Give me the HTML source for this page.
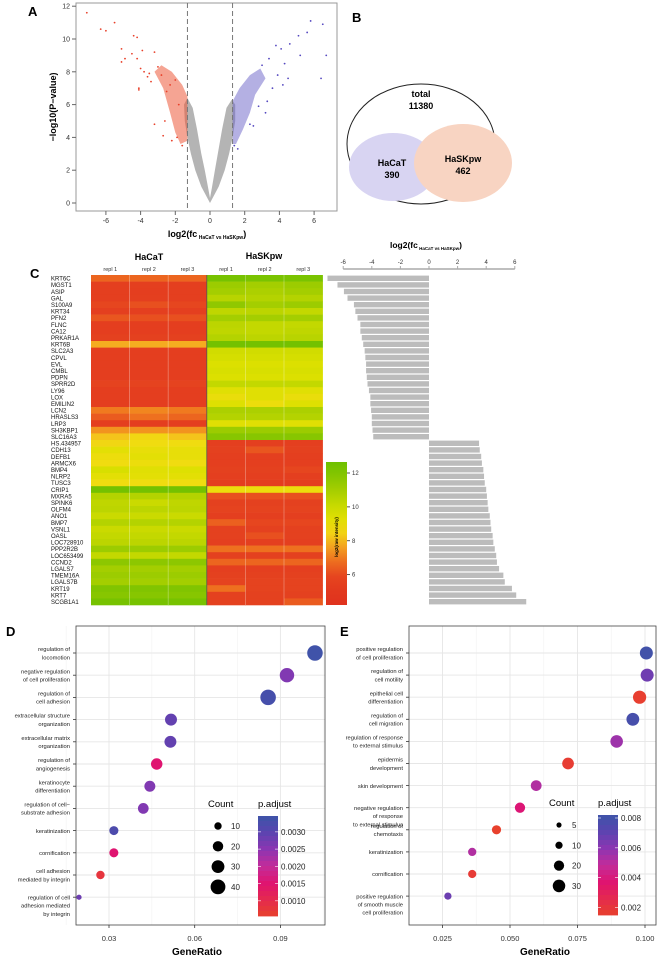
<!DOCTYPE html>
<html><head><meta charset="utf-8"><style>
html,body{margin:0;padding:0;background:#fff}
svg{display:block;font-family:"Liberation Sans",Arial,sans-serif}
</style></head><body>
<svg id="fig" width="660" height="960" viewBox="0 0 660 960" xmlns="http://www.w3.org/2000/svg">
<g id="gA"></g>
<g id="gB"></g>
<g id="gC"></g>
<g id="gD"></g>
<g id="gE"></g>
</svg>
<script>
// ---------- DATA ----------
const volX_ticks=[-6,-4,-2,0,2,4,6];
const volY_ticks=[0,2,4,6,8,10,12];
const grayLeftEnv=[[0,0],[-0.5,1],[-0.85,2],[-1.1,3],[-1.3,4],[-1.45,5],[-1.5,6],[-1.3,6.4],[-1.0,5.8],[-0.75,4.5],[-0.5,3],[-0.3,2],[-0.12,1],[0,0.3]];
const grayRightEnv=[[0,0],[0.5,1],[0.85,2],[1.1,3],[1.3,4],[1.45,5],[1.45,6],[1.25,6.3],[0.95,5.8],[0.7,4.5],[0.45,3],[0.28,2],[0.12,1],[0,0.3]];
const redCore=[[-1.3,3.8],[-1.3,6.5],[-1.6,7.2],[-2.2,8.0],[-2.8,8.4],[-3.2,8.0],[-2.7,7.0],[-2.3,5.5],[-2.0,4.3],[-1.7,3.6]];
const blueCore=[[1.3,3.6],[1.3,6.2],[1.7,7.0],[2.3,7.8],[2.9,8.2],[3.2,7.6],[2.6,6.6],[2.3,5.5],[1.9,4.5],[1.5,3.6]];
const redX=[-7.1,-6.3,-6.0,-5.5,-4.4,-4.2,-3.9,-5.1,-4.5,-4.2,-3.2,-5.1,-4.9,-4.0,-3.8,-3.5,-3.0,-2.8,-4.1,-4.1,-3.2,-2.7,-2.0,-2.3,-2.5,-1.8,-3.4,-3.6,-2.2,-1.6,-1.9,-2.6];
const redY=[11.6,10.6,10.5,11.0,10.2,10.1,9.3,9.4,9.1,8.8,9.2,8.6,8.8,8.2,8.0,7.9,8.3,7.8,7.0,6.9,4.8,4.1,7.5,7.2,6.8,6.0,7.4,7.7,3.8,3.5,4.0,5.0];
const blueX=[5.8,6.5,5.6,5.1,4.6,3.8,4.1,5.2,6.7,3.4,4.3,3.0,3.9,4.5,4.2,3.6,6.4,3.2,2.5,2.3,3.3,2.8,1.4,1.6];
const blueY=[11.1,10.9,10.4,10.2,9.7,9.6,9.4,9.0,9.0,8.8,8.5,8.4,7.8,7.6,7.2,7.0,7.6,5.5,4.7,4.8,6.2,5.9,3.5,3.3];
const vennTotal=11380, vennHaCaT=390, vennHaSKpw=462;
const genes=["KRT6C","MGST1","ASIP","GAL","S100A9","KRT34","PFN2","FLNC","CA12","PRKAR1A","KRT6B","SLC2A3","CPVL","EVL","CMBL","PDPN","SPRR2D","LY96","LOX","EMILIN2","LCN2","HRASLS3","LRP3","SH3KBP1","SLC16A3","HS.434957","CDH13","DEFB1","ARMCX6","BMP4","NLRP2","TUSC3","CRIP1","MXRA5","SPINK6","OLFM4","ANO1","BMP7","VSNL1","OASL","LOC728910","PPP2R2B","LOC653499","CCND2","LGALS7","TMEM16A","LGALS7B","KRT19","KRT7","SCGB1A1"];
const hacat=[[6.6,6.6,6.6],[5.5,5.5,5.5],[5.5,5.4,5.5],[5.5,5.5,5.5],[6,6.2,6],[5.5,5.5,5.5],[6.3,6.2,6.2],[5.4,5.4,5.4],[5.4,5.4,5.4],[5.6,5.6,5.6],[7.8,7.8,7.8],[5.4,5.4,5.4],[5.4,5.4,5.4],[5.4,5.4,5.4],[5.4,5.4,5.4],[5.4,5.4,5.4],[5.8,5.8,5.8],[5.4,5.4,5.4],[5.4,5.4,5.4],[5.4,5.4,5.4],[7.0,7.2,7.0],[6.4,6.8,6.6],[5.4,5.4,5.4],[7.4,7.4,7.4],[8.2,8.5,8.2],[8.5,8.6,8.6],[9.2,9,9],[8.8,9.2,9],[8.6,8.8,8.6],[9.6,9.3,9.4],[9.2,9.2,9.2],[8.6,8.6,8.6],[12.4,12.4,12.4],[10.6,10.6,10.6],[10.3,10,10.3],[10.4,10.4,10.4],[10,10,10],[10.6,10.6,10.6],[10,10,10],[10.2,10.2,10.2],[10.4,10.4,10.4],[11.2,11.2,11.2],[10.2,10.2,10.2],[11.6,11.6,11.6],[11,11,11],[11.2,11.2,11.2],[11,11,11],[12,12,12],[11.8,11.8,11.8],[12.3,12.3,12.3]];
const haskpw=[[12.3,12.2,12.2],[11.2,11,11.2],[11,10.8,11],[10.5,10.6,10.6],[11.5,11,11.2],[10.3,10.4,10.2],[11,11,11],[10.4,10.2,10.2],[10.3,10.2,10.3],[10.6,10.4,10.5],[12.4,12.4,12.4],[9.8,9.8,9.8],[9.7,9.7,9.7],[9.5,9.5,9.5],[9.6,9.6,9.6],[9.5,9.5,9.5],[10.2,10.2,10.2],[9.3,9.3,9.3],[8.9,9.3,8.9],[9.4,8.8,9.4],[10.8,10.8,10.8],[10.6,10.6,10.6],[9.3,9.3,9.3],[11.2,11.2,11.2],[11.8,11.8,11.8],[5.5,5.5,5.5],[5.6,6.3,5.6],[5.5,5.5,5.5],[5.5,5.5,5.5],[5.6,5.6,6],[5.5,5.5,5.5],[5.4,5.4,5.4],[8.8,8.8,8.8],[6.2,6.2,6.2],[5.6,5.6,5.6],[5.8,5.8,5.8],[5.5,5.5,5.5],[6.5,6,6],[5.6,5.6,5.6],[5.6,6.2,5.6],[5.5,5.5,5.5],[6.8,6.8,6.8],[5.6,5.6,5.6],[6.6,6.6,6.6],[5.5,5.5,5.5],[5.6,5.6,5.6],[5.8,5.8,5.8],[6.8,5.8,5.8],[5.6,5.6,5.6],[5.6,5.6,6.4]];
const foldChange=[-7.1,-6.4,-5.95,-5.7,-5.25,-5.15,-5.0,-4.8,-4.8,-4.7,-4.6,-4.5,-4.45,-4.4,-4.4,-4.35,-4.3,-4.2,-4.1,-4.1,-4.05,-4.0,-4.0,-3.95,-3.9,3.5,3.55,3.65,3.7,3.8,3.85,3.9,4.0,4.05,4.1,4.15,4.25,4.3,4.35,4.45,4.5,4.6,4.7,4.75,4.9,5.2,5.3,5.8,6.1,6.8];
const fcTicks=[-6,-4,-2,0,2,4,6];
const intensityTicks=[6,8,10,12];
const dTerms=[["regulation of","locomotion"],["negative regulation","of cell proliferation"],["regulation of","cell adhesion"],["extracellular structure","organization"],["extracellular matrix","organization"],["regulation of","angiogenesis"],["keratinocyte","differentiation"],["regulation of cell−","substrate adhesion"],["keratinization"],["cornification"],["cell adhesion","mediated by integrin"],["regulation of cell","adhesion mediated","by integrin"]];
const dRatio=[0.1021,0.0923,0.0857,0.0517,0.0515,0.0467,0.0443,0.042,0.0317,0.0317,0.027,0.0195];
const dCount=[44,38,44,26,26,24,22,21,15,15,13,5];
const dPadj=[0.0034,0.0026,0.0033,0.0029,0.0029,0.0015,0.0026,0.0026,0.0032,0.0015,0.0008,0.0028];
const dXTicks=[0.03,0.06,0.09];
const dCountLegend=[10,20,30,40];
const dPTicks=[0.0010,0.0015,0.0020,0.0025,0.0030];
const eTerms=[["positive regulation","of cell proliferation"],["regulation of","cell motility"],["epithelial cell","differentiation"],["regulation of","cell migration"],["regulation of response","to external stimulus"],["epidermis","development"],["skin development"],["negative regulation","of response","to external stimulus"],["regulation of","chemotaxis"],["keratinization"],["cornification"],["positive regulation","of smooth muscle","cell proliferation"]];
const eRatio=[0.1005,0.1008,0.098,0.0955,0.0895,0.0715,0.0597,0.0537,0.045,0.036,0.036,0.027];
const eCount=[32,32,33,31,30,26,22,20,16,13,13,10];
const ePadj=[0.0080,0.0066,0.0016,0.0078,0.0056,0.0017,0.0052,0.0038,0.0015,0.0052,0.0018,0.0067];
const eXTicks=[0.025,0.050,0.075,0.100];
const eCountLegend=[5,10,20,30];
const ePTicks=[0.002,0.004,0.006,0.008];

// ---------- HELPERS ----------
const NS="http://www.w3.org/2000/svg";
function mk(parent,tag,attrs,text){const e=document.createElementNS(NS,tag);for(const k in attrs)e.setAttribute(k,attrs[k]);if(text!==undefined)e.textContent=text;parent.appendChild(e);return e;}
function hex(c){return [parseInt(c.slice(1,3),16),parseInt(c.slice(3,5),16),parseInt(c.slice(5,7),16)];}
function interp(stops,v){if(v<=stops[0][0])return stops[0][1];for(let i=1;i<stops.length;i++){if(v<=stops[i][0]){const t=(v-stops[i-1][0])/(stops[i][0]-stops[i-1][0]);const a=hex(stops[i-1][1]),b=hex(stops[i][1]);return "rgb("+a.map((x,j)=>Math.round(x+(b[j]-x)*t)).join(",")+")";}}return stops[stops.length-1][1];}
const heatStops=[[4.5,"#e0321e"],[6,"#e6461f"],[7,"#f07a1f"],[8,"#f6b820"],[8.6,"#f0dc10"],[9.5,"#dce000"],[10.5,"#b8d400"],[11.5,"#90c800"],[12.6,"#6ec000"]];
const pStops=[[0,"#e8412d"],[0.32,"#e0136f"],[0.5,"#c22c9a"],[0.67,"#8a36b2"],[0.84,"#5a44b0"],[1,"#3c55a8"]];

// ---------- PANEL A ----------
(function(){
const g=document.getElementById('gA');
const xA=v=>210+v*17.35, yA=v=>203-v*16.4;
const lbl=mk(g,'text',{x:28,y:16,'font-size':13,'font-weight':'bold'},'A');


const box=mk(g,'rect',{x:76,y:3,width:261,height:208,fill:'none',stroke:'#999','stroke-width':1});


const pts=a=>a.map(p=>xA(p[0]).toFixed(1)+','+yA(p[1]).toFixed(1)).join(' ');
const gl=mk(g,'polygon',{points:pts(grayLeftEnv),fill:'#b4b4b4'});


const gr=mk(g,'polygon',{points:pts(grayRightEnv),fill:'#b4b4b4'});


const rc=mk(g,'polygon',{points:pts(redCore),fill:'#ec5a3a','fill-opacity':0.55});


const bc=mk(g,'polygon',{points:pts(blueCore),fill:'#6a62c8','fill-opacity':0.5});


redX.forEach((x,i)=>{const c=mk(g,'circle',{cx:xA(x),cy:yA(redY[i]),r:0.9,fill:'#e8402a'});

});
blueX.forEach((x,i)=>{const c=mk(g,'circle',{cx:xA(x),cy:yA(blueY[i]),r:0.9,fill:'#5548c0'});

});
[-1.3,1.3].forEach(v=>{const l=mk(g,'line',{x1:xA(v),x2:xA(v),y1:3,y2:211,stroke:'#777','stroke-width':1,'stroke-dasharray':'5,3'});

});
volY_ticks.forEach(v=>{mk(g,'line',{x1:72,x2:76,y1:yA(v),y2:yA(v),stroke:'#666'});
const t=mk(g,'text',{x:70,y:yA(v)+2.5,'font-size':7,'text-anchor':'end',fill:'#333'},v);

});
volX_ticks.forEach(v=>{mk(g,'line',{x1:xA(v),x2:xA(v),y1:211,y2:215,stroke:'#666'});
const t=mk(g,'text',{x:xA(v),y:223,'font-size':7,'text-anchor':'middle',fill:'#333'},v);

});
const yt=mk(g,'text',{x:0,y:0,'font-size':9,'font-weight':'bold','text-anchor':'middle',transform:'translate(56,107) rotate(-90)'},'−log10(P−value)');


const xt=mk(g,'text',{x:207,y:237,'font-size':9,'font-weight':'bold','text-anchor':'middle'});


xt.innerHTML='log2(fc<tspan font-size="5" dy="2"> HaCaT vs HaSKpw</tspan><tspan dy="-2">)</tspan>';
})();

// ---------- PANEL B ----------
(function(){
const g=document.getElementById('gB');
const l=mk(g,'text',{x:352,y:22,'font-size':13,'font-weight':'bold'},'B');


const e=mk(g,'ellipse',{cx:421,cy:144,rx:74,ry:60,fill:'#fff',stroke:'#222','stroke-width':1});


const a=mk(g,'ellipse',{cx:393,cy:167,rx:44,ry:34,fill:'#d8d4f2'});


const b=mk(g,'ellipse',{cx:463,cy:163,rx:49,ry:39,fill:'#f8d4c2'});


[['total',421,97],[vennTotal,421,109],['HaCaT',392,166],[vennHaCaT,392,178],['HaSKpw',463,162],[vennHaSKpw,463,174]].forEach(d=>{
const t=mk(g,'text',{x:d[1],y:d[2],'font-size':9,'font-weight':'bold','text-anchor':'middle'},d[0]);

});
})();

// ---------- PANEL C ----------
(function(){
const g=document.getElementById('gC');
const l=mk(g,'text',{x:30,y:278,'font-size':13,'font-weight':'bold'},'C');


const x0=91,cw=38.6,y0=275,rh=6.6;
const h1=mk(g,'text',{x:149,y:260,'font-size':9,'font-weight':'bold','text-anchor':'middle'},'HaCaT');


const h2=mk(g,'text',{x:264,y:259,'font-size':9,'font-weight':'bold','text-anchor':'middle'},'HaSKpw');


for(let c=0;c<6;c++){const t=mk(g,'text',{x:x0+cw*c+cw/2,y:271,'font-size':5.5,'text-anchor':'middle',fill:'#333'},'repl '+(c%3+1));

}
const xb=v=>429+v*14.3;
genes.forEach((gn,r)=>{
const y=y0+r*rh;
const t=mk(g,'text',{x:51,y:y+5.6,'font-size':6,fill:'#111'},gn);


const vals=hacat[r].concat(haskpw[r]);
vals.forEach((v,c)=>{const cell=mk(g,'rect',{x:x0+cw*c,y:y,width:cw+0.3,height:rh+0.3,fill:interp(heatStops,v)});

});
const fc=foldChange[r];
const bar=mk(g,'rect',{x:Math.min(xb(0),xb(fc)),y:y+0.6,width:Math.abs(xb(fc)-xb(0)),height:5.4,fill:'#bcbcbc'});


});
for(let c=1;c<6;c++){if(c===3)continue;mk(g,'line',{x1:x0+cw*c,x2:x0+cw*c,y1:y0,y2:y0+rh*50,stroke:'#ffffff','stroke-opacity':0.35,'stroke-width':0.8});}
mk(g,'line',{x1:x0+cw*3,x2:x0+cw*3,y1:y0,y2:y0+rh*50,stroke:'#555','stroke-width':0.8});
mk(g,'line',{x1:xb(-6),x2:xb(6),y1:269,y2:269,stroke:'#aaa','stroke-width':1.5});
fcTicks.forEach(v=>{mk(g,'line',{x1:xb(v),x2:xb(v),y1:266,y2:269,stroke:'#aaa'});
const t=mk(g,'text',{x:xb(v),y:264,'font-size':6,'text-anchor':'middle',fill:'#333'},v);

});
const bt=mk(g,'text',{x:426,y:248,'font-size':8.5,'font-weight':'bold','text-anchor':'middle'});


bt.innerHTML='log2(fc<tspan font-size="4.5" dy="2"> HaCaT vs HaSKpw</tspan><tspan dy="-2">)</tspan>';
const defs=mk(g,'defs',{});
const lg=mk(defs,'linearGradient',{id:'hg',x1:0,y1:1,x2:0,y2:0});
const vTop=12.65,vBot=4.2;
for(let i=0;i<=10;i++){const v=vBot+(vTop-vBot)*i/10;mk(lg,'stop',{offset:i/10,'stop-color':interp(heatStops,v)});}
const cb=mk(g,'rect',{x:326,y:462,width:21,height:143,fill:'url(#hg)'});


const yc=v=>462+(vTop-v)/(vTop-vBot)*143;
intensityTicks.forEach(v=>{mk(g,'line',{x1:347,x2:350,y1:yc(v),y2:yc(v),stroke:'#555'});
const t=mk(g,'text',{x:352,y:yc(v)+2.2,'font-size':6,fill:'#333'},v);

});
const ct=mk(g,'text',{x:0,y:0,'font-size':4.5,'font-weight':'bold','text-anchor':'middle',transform:'translate(338,537) rotate(-90)'},'log2(raw intensity)');


})();

// ---------- DOT PLOTS ----------
function dotPanel(gid,letter,lx,box,xs,rowY0,rowPitch,terms,ratio,count,padj,xticks,tickFmt,minorTicks,cntLeg,cntPos,pTicks,pRange,pBox,rScale,titleX){
const g=document.getElementById(gid);
const l=mk(g,'text',{x:lx,y:636,'font-size':13,'font-weight':'bold'},letter);


const bg=mk(g,'rect',{x:box[0],y:box[1],width:box[2]-box[0],height:box[3]-box[1],fill:'#fff'});


minorTicks.forEach(v=>mk(g,'line',{x1:xs(v),x2:xs(v),y1:box[1],y2:box[3],stroke:'#f2f2f2','stroke-width':0.6}));
xticks.forEach(v=>mk(g,'line',{x1:xs(v),x2:xs(v),y1:box[1],y2:box[3],stroke:'#e6e6e6','stroke-width':0.9}));
terms.forEach((t,i)=>{const y=rowY0+i*rowPitch;
mk(g,'line',{x1:box[0],x2:box[2],y1:y,y2:y,stroke:'#e6e6e6','stroke-width':0.9});
mk(g,'line',{x1:box[0]-3,x2:box[0],y1:y,y2:y,stroke:'#333','stroke-width':0.8});
const n=t.length,lh=8.2;
t.forEach((s,k)=>{const tx=mk(g,'text',{x:box[0]-6,y:y+2.2+(k-(n===3?0:(n-1)/2))*lh,'font-size':5.8,'text-anchor':'end',fill:'#222'},s);

});
});
mk(g,'rect',{x:box[0],y:box[1],width:box[2]-box[0],height:box[3]-box[1],fill:'none',stroke:'#444','stroke-width':0.8});
const pt=p=>(p-pRange[0])/(pRange[1]-pRange[0]);
ratio.forEach((r,i)=>{const c=mk(g,'circle',{cx:xs(r),cy:rowY0+i*rowPitch,r:Math.sqrt(count[i])*rScale,fill:interp(pStops,pt(padj[i]))});

});
xticks.forEach(v=>{mk(g,'line',{x1:xs(v),x2:xs(v),y1:box[3],y2:box[3]+3,stroke:'#333','stroke-width':0.8});
const t=mk(g,'text',{x:xs(v),y:box[3]+16,'font-size':7.5,'text-anchor':'middle',fill:'#333'},tickFmt(v));

});
const xt=mk(g,'text',{x:titleX,y:955,'font-size':10,'font-weight':'bold','text-anchor':'middle'},'GeneRatio');


const ct=mk(g,'text',{x:cntPos[0]-10,y:cntPos[1],'font-size':9.5},'Count');


cntLeg.forEach((c,i)=>{const y=cntPos[1]+19+i*20.3;
const d=mk(g,'circle',{cx:cntPos[0],cy:y,r:Math.sqrt(c)*rScale,fill:'#000'});


const t=mk(g,'text',{x:cntPos[0]+13,y:y+3,'font-size':8,fill:'#222'},c);

});
const pa=mk(g,'text',{x:pBox[0],y:cntPos[1],'font-size':9.5},'p.adjust');


const nseg=20;
for(let i=0;i<nseg;i++){const t0=1-i/nseg;const s=mk(g,'rect',{x:pBox[0],y:pBox[1]+i*(pBox[3]/nseg),width:pBox[2],height:pBox[3]/nseg+0.4,fill:interp(pStops,t0-0.5/nseg)});

}
pTicks.forEach(v=>{const y=pBox[1]+(1-pt(v))*pBox[3];
mk(g,'line',{x1:pBox[0],x2:pBox[0]+3,y1:y,y2:y,stroke:'#fff','stroke-width':0.6});
mk(g,'line',{x1:pBox[0]+pBox[2]-3,x2:pBox[0]+pBox[2],y1:y,y2:y,stroke:'#fff','stroke-width':0.6});
const t=mk(g,'text',{x:pBox[0]+pBox[2]+3,y:y+3,'font-size':8,fill:'#222'},v.toFixed(letter==='D'?4:3));

});
}
dotPanel('gD','D',6,[76,626,325,925],v=>109+(v-0.03)/0.03*85.7,653,22.2,dTerms,dRatio,dCount,dPadj,dXTicks,v=>v.toFixed(2),[0.015,0.045,0.075,0.105],dCountLegend,[218,807],dPTicks,[0.00056,0.00346],[258,816,20,100],1.17,197);
dotPanel('gE','E',340,[409,626,656,925],v=>510+(v-0.05)/0.025*67.5,653,22.1,eTerms,eRatio,eCount,ePadj,eXTicks,v=>v.toFixed(3),[0.0375,0.0625,0.0875],eCountLegend,[559,806],ePTicks,[0.0015,0.0082],[598,815,20,100],1.15,545);
</script>
</body></html>
